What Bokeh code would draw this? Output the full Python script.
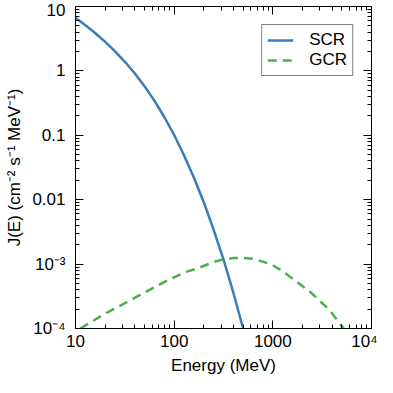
from bokeh.plotting import figure
from bokeh.models import FixedTicker, LogAxis
from bokeh.embed import file_html
from bokeh.resources import INLINE

# Solar cosmic rays (SCR)
energy_scr = [10, 13, 16, 20, 25, 32, 40, 50, 63, 80, 100, 125, 160, 200, 250, 320, 400, 500]
flux_scr = [6.7, 4.92, 3.81, 2.82, 2.03, 1.36, 0.91, 0.58, 0.345, 0.189, 0.101, 0.050,
            0.0214, 0.00904, 0.0035, 0.00111, 0.00035, 0.0001]

# Galactic cosmic rays (GCR)
energy_gcr = [11.2, 18.8, 39.7, 83.6, 130, 176, 250, 297, 400, 500, 625, 750, 978, 1250,
              1527, 2390, 3740, 5230]
flux_gcr = [1.0e-4, 1.61e-4, 2.99e-4, 5.5e-4, 7.5e-4, 8.7e-4, 1.07e-3, 1.16e-3, 1.24e-3,
            1.25e-3, 1.21e-3, 1.12e-3, 9.8e-4, 7.8e-4, 6.2e-4, 3.7e-4, 1.95e-4, 1.0e-4]

x_ticks = [10, 100, 1000, 10000]
x_tick_labels = ["10", "100", "1000", "10⁴"]
y_ticks = [1e-4, 1e-3, 0.01, 0.1, 1, 10]
y_tick_labels = ["10⁻⁴", "10⁻³", "0.01", "0.1", "1", "10"]

x_minor = [m * 10 ** k for k in range(1, 4) for m in range(2, 10)]
y_minor = [m * 10.0 ** k for k in range(-4, 1) for m in range(2, 10)]

FONT = "Liberation Sans"

p = figure(width=377, height=377, x_axis_type="log", y_axis_type="log",
           x_range=(10, 1e4), y_range=(1e-4, 10),
           output_backend="svg", toolbar_location=None,
           min_border_left=75, min_border_right=6, min_border_top=6, min_border_bottom=30,
           x_axis_label="Energy (MeV)", y_axis_label="J(E) (cm⁻² s⁻¹ MeV⁻¹)")

p.xgrid.visible = False
p.ygrid.visible = False
p.outline_line_color = "black"
p.outline_line_width = 1
p.background_fill_color = "white"
p.border_fill_color = "white"

r1 = p.line(energy_scr, flux_scr, line_color="#377eb8", line_width=2.5, legend_label="SCR")
r2 = p.line(energy_gcr, flux_gcr, line_color="#4daf4a", line_width=2.5, line_dash="9 6",
            legend_label="GCR")


def style(ax):
    ax.axis_line_color = "black"
    ax.major_tick_line_color = "black"
    ax.minor_tick_line_color = "black"
    ax.major_tick_in = 8
    ax.major_tick_out = 0
    ax.minor_tick_in = 4
    ax.minor_tick_out = 0
    ax.major_label_text_font = FONT
    ax.major_label_text_color = "black"
    ax.major_label_text_font_size = "17px"
    ax.axis_label_text_font = FONT
    ax.axis_label_text_font_style = "normal"
    ax.axis_label_text_color = "black"
    ax.axis_label_text_font_size = "17px"


xa = p.xaxis[0]
ya = p.yaxis[0]
xa.ticker = FixedTicker(ticks=x_ticks, minor_ticks=x_minor)
ya.ticker = FixedTicker(ticks=y_ticks, minor_ticks=y_minor)
xa.major_label_overrides = {t: l for t, l in zip(x_ticks, x_tick_labels)}
ya.major_label_overrides = {t: l for t, l in zip(y_ticks, y_tick_labels)}
style(xa)
style(ya)
xa.major_label_standoff = 3
xa.axis_label_standoff = 2
ya.major_label_standoff = 10
ya.axis_label_standoff = 5

top = LogAxis(ticker=FixedTicker(ticks=x_ticks, minor_ticks=x_minor))
right = LogAxis(ticker=FixedTicker(ticks=y_ticks, minor_ticks=y_minor))
for ax in (top, right):
    style(ax)
    ax.major_label_text_font_size = "1px"
    ax.major_label_text_alpha = 0
    ax.major_label_standoff = 0
top.major_label_overrides = {t: "" for t in x_ticks}
right.major_label_overrides = {t: "" for t in y_ticks}
p.add_layout(top, "above")
p.add_layout(right, "right")

lg = p.legend[0]
lg.location = "top_right"
lg.border_line_color = "black"
lg.border_line_width = 1
lg.background_fill_alpha = 1
lg.label_text_font = FONT
lg.label_text_font_size = "17px"
lg.label_text_color = "black"
lg.label_height = 18
lg.glyph_height = 18
lg.glyph_width = 26
lg.label_standoff = 16
lg.padding = 5
lg.spacing = 0
lg.margin = 18

open("out.html", "w").write(file_html(p, INLINE))
